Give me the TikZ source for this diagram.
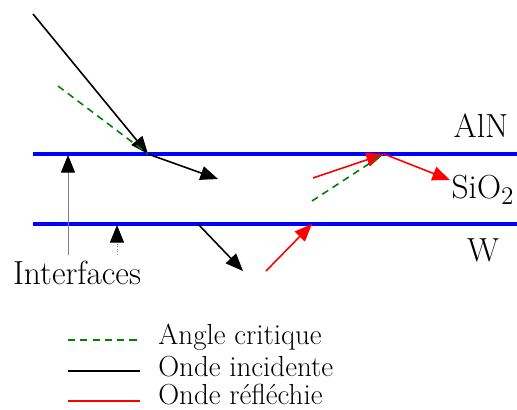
\documentclass[tikz,border=0pt]{standalone}
\usetikzlibrary{arrows.meta}
\begin{document}
\begin{tikzpicture}[x=0.02cm,y=-0.02cm,
  iface/.style={blue,line width=2.8pt},
  ray/.style={line width=0.9pt,-{Triangle[length=10pt,width=8pt]}},
  incid/.style={ray,black},
  refl/.style={ray,red},
  crit/.style={green!50!black,line width=0.9pt,dash pattern=on 4pt off 3pt},
  lbl/.style={font=\fontsize{19}{22}\selectfont,inner sep=0pt},
  leg/.style={font=\fontsize{16.5}{20}\selectfont,inner sep=0pt,anchor=west},
  ptr/.style={gray,line width=0.5pt,-{Triangle[length=10pt,width=8pt,color=black]}}]
\useasboundingbox (0,0) rectangle (517,409);
% interfaces
\coordinate (t1) at (33,154); \coordinate (t2) at (517,154);
\coordinate (b1) at (33,224); \coordinate (b2) at (517,224);
\draw[iface] (t1) -- (t2);
\draw[iface] (b1) -- (b2);
% incident ray
\coordinate (i0) at (33,14); \coordinate (ip) at (148,154);
\coordinate (i1) at (218,179);
\draw[incid] (i0) -- (ip);
\draw[incid] (ip) -- (i1);
\coordinate (c0) at (58,86);
\draw[crit] (c0) -- (ip);
% transmitted below
\coordinate (d0) at (198,224); \coordinate (d1) at (243,271);
\draw[incid] (d0) -- (d1);
% reflected
\coordinate (r0) at (266,271); \coordinate (r1) at (312,224);
\draw[refl] (r0) -- (r1);
\coordinate (r2) at (313,178); \coordinate (rp) at (384,154);
\coordinate (r3) at (450,180);
\draw[refl] (r2) -- (rp);
\draw[refl] (rp) -- (r3);
\coordinate (c1) at (312,201);
\draw[crit] (c1) -- (rp);
% labels
\node[lbl] (aln) at (481,126) {AlN};
\node[lbl] (sio) at (483,190) {SiO$_2$};
\node[lbl] (w) at (483,250) {W};
\node[lbl] (int) at (77,273) {Interfaces};
\coordinate (p1s) at (68,255); \coordinate (p1e) at (68,155);
\coordinate (p2s) at (117,255); \coordinate (p2e) at (117,225);
\draw[ptr] (p1s) -- (p1e);
\draw[ptr,densely dotted] (p2s) -- (p2e);
% legend
\coordinate (l1a) at (68,340); \coordinate (l1b) at (140,340);
\coordinate (l2a) at (68,371); \coordinate (l2b) at (140,371);
\coordinate (l3a) at (68,401); \coordinate (l3b) at (140,401);
\draw[crit] (l1a) -- (l1b);
\draw[black,line width=0.9pt] (l2a) -- (l2b);
\draw[red,line width=0.9pt] (l3a) -- (l3b);
\node[leg] (lt1) at (158,337) {Angle critique};
\node[leg] (lt2) at (158,367) {Onde incidente};
\node[leg] (lt3) at (158,395) {Onde réfléchie};
\end{tikzpicture}
\end{document}
